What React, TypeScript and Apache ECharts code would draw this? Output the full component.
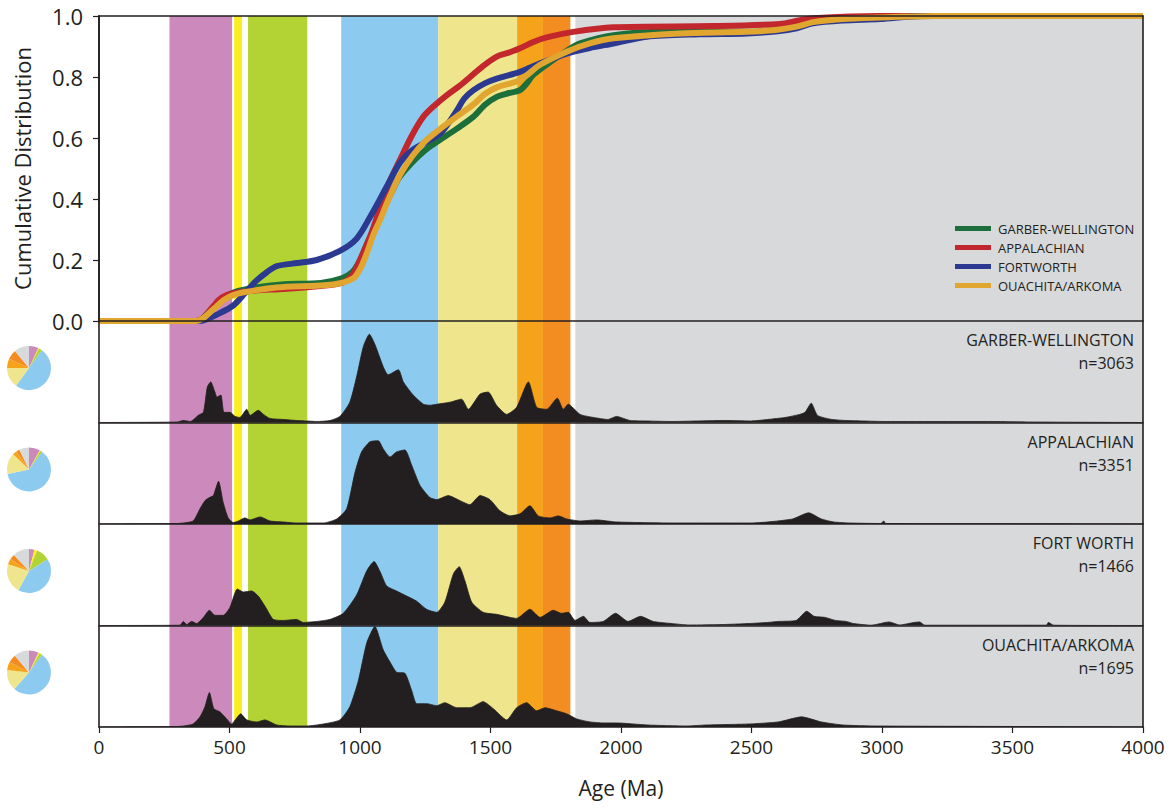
import React, { useEffect, useRef } from "react";
import * as echarts from "echarts";

// ---------- DATA ----------
const AGE_MIN = 0;
const AGE_MAX = 4000;
const AGE_STEP = 500;

const BAND_NAMES = [
  "270–510 Ma", "518–548 Ma", "571–798 Ma", "928–1300 Ma",
  "1300–1600 Ma", "1600–1700 Ma", "1700–1805 Ma", ">1825 Ma",
];
const BAND_START = [270, 518, 571, 928, 1300, 1602, 1701, 1825];
const BAND_END = [510, 548, 798, 1300, 1602, 1701, 1806, 4000];
const BAND_COLORS = ["#cb89bc", "#fbee1f", "#b3d334", "#8ccbef", "#eee58c", "#f6a31c", "#f48d21", "#d8d9db"];

const BASIN_NAMES = ["GARBER-WELLINGTON", "APPALACHIAN", "FORTWORTH", "OUACHITA/ARKOMA"];
const PANEL_LABELS = ["GARBER-WELLINGTON", "APPALACHIAN", "FORT WORTH", "OUACHITA/ARKOMA"];
const PANEL_N = [3063, 3351, 1466, 1695];
const CDF_COLORS = ["#1c6e3a", "#c1272d", "#2b3990", "#e0a630"];

// cumulative distributions [age, fraction]
const CDF_GW = [[0,0],[380,0],[420,0.03],[470,0.07],[520,0.095],[600,0.11],[700,0.12],[850,0.125],[930,0.14],[970,0.16],[1000,0.2],[1030,0.26],[1060,0.31],[1090,0.37],[1120,0.42],[1150,0.47],[1200,0.52],[1250,0.56],[1300,0.59],[1370,0.63],[1435,0.67],[1480,0.71],[1524,0.735],[1560,0.745],[1613,0.757],[1640,0.78],[1664,0.807],[1741,0.856],[1800,0.89],[1843,0.91],[1971,0.937],[2163,0.948],[2482,0.948],[2600,0.955],[2673,0.965],[2737,0.985],[2850,0.995],[2993,0.998],[3200,1],[4000,1]];
const CDF_AP = [[0,0],[370,0],[400,0.01],[430,0.04],[460,0.07],[490,0.085],[520,0.092],[600,0.1],[700,0.105],[850,0.115],[930,0.125],[970,0.15],[1000,0.2],[1040,0.28],[1077,0.37],[1110,0.45],[1154,0.53],[1200,0.61],[1243,0.67],[1290,0.71],[1332,0.74],[1380,0.77],[1422,0.8],[1470,0.835],[1524,0.867],[1570,0.88],[1613,0.894],[1664,0.915],[1715,0.93],[1817,0.948],[1971,0.963],[2354,0.967],[2609,0.974],[2680,0.985],[2737,0.993],[2993,1],[4000,1]];
const CDF_FW = [[0,0],[390,0],[410,0.005],[450,0.02],[513,0.05],[558,0.09],[600,0.13],[643,0.16],[681,0.18],[760,0.19],[834,0.2],[923,0.23],[987,0.27],[1038,0.34],[1077,0.4],[1102,0.44],[1154,0.52],[1200,0.56],[1250,0.585],[1307,0.615],[1340,0.65],[1371,0.69],[1400,0.73],[1435,0.757],[1480,0.78],[1524,0.795],[1613,0.817],[1690,0.845],[1792,0.877],[1880,0.895],[1971,0.91],[2099,0.932],[2300,0.94],[2482,0.943],[2600,0.95],[2673,0.96],[2737,0.976],[2850,0.985],[2993,0.99],[3150,1],[4000,1]];
const CDF_OA = [[0,0],[370,0],[400,0.01],[440,0.04],[480,0.07],[514,0.085],[560,0.095],[681,0.11],[897,0.12],[974,0.14],[1000,0.17],[1025,0.22],[1050,0.28],[1076,0.33],[1110,0.4],[1154,0.48],[1200,0.54],[1250,0.59],[1300,0.625],[1370,0.67],[1435,0.71],[1480,0.745],[1524,0.766],[1613,0.79],[1690,0.84],[1792,0.883],[1880,0.91],[1971,0.927],[2226,0.943],[2482,0.948],[2600,0.955],[2673,0.965],[2737,0.98],[2850,0.99],[2993,0.995],[3200,1],[4000,1]];

// relative probability density [age, relative height]
const KDE_GW = [[0,0],[300,0.005],[323,0.02],[350,0.01],[380,0.07],[400,0.1],[415,0.35],[428,0.4],[444,0.3],[452,0.25],[467,0.27],[479,0.1],[502,0.1],[521,0.06],[540,0.05],[566,0.13],[579,0.07],[610,0.12],[630,0.08],[655,0.04],[706,0.03],[757,0.02],[796,0.015],[834,0.01],[885,0.02],[923,0.06],[961,0.2],[987,0.45],[1013,0.75],[1036,0.87],[1057,0.77],[1089,0.55],[1108,0.47],[1147,0.52],[1166,0.4],[1204,0.27],[1243,0.18],[1268,0.17],[1294,0.18],[1345,0.2],[1389,0.23],[1415,0.13],[1460,0.28],[1491,0.3],[1523,0.17],[1562,0.08],[1600,0.15],[1645,0.4],[1677,0.15],[1715,0.13],[1756,0.24],[1779,0.13],[1798,0.18],[1843,0.08],[1894,0.05],[1950,0.03],[1983,0.06],[2034,0.02],[2100,0.015],[2192,0.01],[2397,0.02],[2500,0.015],[2562,0.03],[2630,0.05],[2685,0.08],[2705,0.1],[2729,0.19],[2753,0.07],[2808,0.03],[2863,0.02],[3014,0.01],[3425,0.01],[3562,0.005],[4000,0]];
const KDE_AP = [[0,0],[300,0.005],[323,0.01],[361,0.03],[387,0.15],[406,0.23],[423,0.26],[438,0.28],[458,0.42],[476,0.21],[495,0.06],[515,0.015],[534,0.03],[559,0.06],[579,0.04],[617,0.07],[655,0.03],[706,0.02],[757,0.01],[860,0.01],[911,0.05],[949,0.15],[981,0.51],[1006,0.71],[1038,0.81],[1070,0.82],[1089,0.74],[1115,0.66],[1140,0.71],[1172,0.73],[1198,0.58],[1230,0.38],[1268,0.26],[1294,0.24],[1338,0.28],[1383,0.23],[1421,0.19],[1460,0.28],[1498,0.24],[1536,0.13],[1575,0.08],[1613,0.1],[1651,0.18],[1683,0.08],[1728,0.06],[1760,0.08],[1792,0.05],[1843,0.03],[1907,0.04],[1983,0.02],[2200,0.01],[2500,0.01],[2562,0.02],[2658,0.05],[2719,0.11],[2767,0.05],[2815,0.02],[2877,0.01],[2995,0.005],[3007,0.03],[3014,0.005],[3500,0.003],[4000,0]];
const KDE_FW = [[0,0],[310,0.003],[323,0.04],[336,0.01],[355,0.04],[374,0.02],[400,0.08],[423,0.15],[444,0.1],[476,0.1],[502,0.18],[530,0.36],[553,0.33],[585,0.34],[610,0.29],[636,0.19],[668,0.06],[706,0.05],[757,0.06],[783,0.03],[834,0.04],[885,0.06],[936,0.12],[987,0.3],[1026,0.54],[1054,0.63],[1077,0.53],[1102,0.39],[1140,0.34],[1179,0.29],[1217,0.24],[1255,0.16],[1294,0.13],[1325,0.23],[1358,0.51],[1380,0.58],[1402,0.44],[1428,0.23],[1472,0.13],[1523,0.11],[1575,0.08],[1600,0.07],[1651,0.16],[1690,0.08],[1741,0.15],[1772,0.12],[1798,0.13],[1824,0.05],[1856,0.09],[1881,0.03],[1932,0.04],[1979,0.12],[2027,0.04],[2075,0.09],[2123,0.04],[2192,0.02],[2260,0.005],[2397,0.01],[2493,0.02],[2562,0.03],[2603,0.04],[2671,0.05],[2712,0.14],[2740,0.09],[2781,0.08],[2822,0.05],[2863,0.04],[2890,0.02],[2959,0.003],[3027,0.035],[3068,0.005],[3123,0.03],[3144,0.035],[3164,0.003],[3288,0.003],[3630,0.003],[3637,0.03],[3658,0.003],[4000,0]];
const KDE_OA = [[0,0],[300,0.005],[323,0.01],[361,0.03],[387,0.1],[406,0.2],[423,0.34],[440,0.18],[463,0.15],[489,0.08],[508,0.03],[525,0.08],[543,0.13],[566,0.07],[604,0.05],[636,0.07],[681,0.02],[732,0.01],[796,0.01],[860,0.03],[923,0.07],[961,0.2],[994,0.46],[1026,0.83],[1057,0.99],[1089,0.76],[1115,0.64],[1140,0.54],[1172,0.53],[1198,0.36],[1217,0.23],[1255,0.23],[1294,0.21],[1325,0.24],[1370,0.19],[1421,0.19],[1472,0.25],[1511,0.18],[1562,0.07],[1600,0.19],[1638,0.24],[1677,0.16],[1709,0.19],[1753,0.16],[1792,0.13],[1830,0.08],[1881,0.05],[1932,0.04],[1983,0.04],[2100,0.02],[2250,0.01],[2329,0.02],[2493,0.03],[2603,0.05],[2692,0.1],[2767,0.05],[2849,0.02],[2980,0.01],[3500,0.005],[4000,0]];

// pie proportions (% of grains per age band)
const PIE_GW = [7, 0.5, 2.5, 50, 15, 7, 7, 11];
const PIE_AP = [8, 0.5, 1.5, 60, 15, 3, 2.5, 7];
const PIE_FW = [4, 2, 10, 42, 22, 4, 4, 12];
const PIE_OA = [7, 1, 2, 51, 15, 6, 6, 11];

const CDFS = [CDF_GW, CDF_AP, CDF_FW, CDF_OA];
const KDES = [KDE_GW, KDE_AP, KDE_FW, KDE_OA];
const PIES = [PIE_GW, PIE_AP, PIE_FW, PIE_OA];

// ---------- LAYOUT ----------
const LEFT = 99;
const WIDTH = 1044;
const TOP = 16;
const CDF_H = 305;
const PANEL_H = 101.5;
const INK = "#231f20";
const SANS = "'Open Sans', 'Noto Sans', sans-serif";

export default function App() {
  const ref = useRef<HTMLDivElement>(null);

  useEffect(() => {
    document.body.style.margin = "0";
    const chart = echarts.init(ref.current!, null, { renderer: "svg" });

    const panelTop = (i: number) => TOP + CDF_H + i * PANEL_H;

    const grids: any[] = [
      { left: LEFT, top: TOP, width: WIDTH, height: CDF_H + 4 * PANEL_H },
      { left: LEFT, top: TOP, width: WIDTH, height: CDF_H },
    ];
    for (let i = 0; i < 4; i++) grids.push({ left: LEFT, top: panelTop(i), width: WIDTH, height: PANEL_H });

    const lineStyle = { color: INK, width: 1.6 };

    const xAxes: any[] = [
      { gridIndex: 0, type: "value", min: AGE_MIN, max: AGE_MAX, show: false },
      { gridIndex: 1, type: "value", min: AGE_MIN, max: AGE_MAX, z: 10, axisLine: { show: true, lineStyle }, axisTick: { show: false }, axisLabel: { show: false }, splitLine: { show: false } },
      { gridIndex: 1, type: "value", position: "top", min: AGE_MIN, max: AGE_MAX, z: 10, axisLine: { show: true, lineStyle }, axisTick: { show: false }, axisLabel: { show: false }, splitLine: { show: false } },
    ];
    for (let i = 0; i < 4; i++) {
      const last = i === 3;
      xAxes.push({
        gridIndex: 2 + i, type: "value", min: AGE_MIN, max: AGE_MAX, interval: AGE_STEP, z: 10,
        axisLine: { show: true, lineStyle },
        axisTick: { show: last, length: 6, lineStyle: { color: INK, width: 1.2 } },
        axisLabel: { show: last, fontSize: 19, fontFamily: SANS, color: INK, margin: 10, formatter: (v: number) => String(v) },
        splitLine: { show: false },
        name: last ? "Age (Ma)" : "",
        nameLocation: "middle",
        nameGap: 50,
        nameTextStyle: { fontSize: 21, fontFamily: SANS, color: INK },
      });
    }

    const yAxes: any[] = [
      { gridIndex: 0, type: "value", min: 0, max: 1, z: 10, axisLine: { show: true, lineStyle }, axisTick: { show: false }, axisLabel: { show: false }, splitLine: { show: false } },
      { gridIndex: 0, type: "value", position: "right", min: 0, max: 1, z: 10, axisLine: { show: true, lineStyle }, axisTick: { show: false }, axisLabel: { show: false }, splitLine: { show: false } },
      {
        gridIndex: 1, type: "value", min: 0, max: 1, interval: 0.2, z: 10,
        axisLine: { show: true, lineStyle },
        axisTick: { show: true, length: 6, lineStyle: { color: INK, width: 1.2 } },
        axisLabel: { fontSize: 22, fontFamily: SANS, color: INK, margin: 16, formatter: (v: number) => v.toFixed(1) },
        splitLine: { show: false },
        name: "Cumulative Distribution",
        nameLocation: "middle",
        nameGap: 66,
        nameTextStyle: { fontSize: 22, fontFamily: SANS, color: INK },
      },
    ];
    for (let i = 0; i < 4; i++) yAxes.push({ gridIndex: 2 + i, type: "value", min: 0, max: 1, show: false });

    const series: any[] = [
      {
        type: "line", xAxisIndex: 0, yAxisIndex: 0, data: [[0, 0]], symbol: "none",
        lineStyle: { width: 0, opacity: 0 }, silent: true, z: 1,
        markArea: {
          silent: true,
          data: BAND_START.map((s, i) => [
            { xAxis: s, itemStyle: { color: BAND_COLORS[i], opacity: 1 } },
            { xAxis: BAND_END[i] },
          ]),
        },
      },
    ];
    for (let i = 0; i < 4; i++) {
      series.push({
        type: "line", name: BASIN_NAMES[i], xAxisIndex: 1, yAxisIndex: 2, data: CDFS[i],
        symbol: "none", smooth: 0.3, z: 5,
        lineStyle: { color: CDF_COLORS[i], width: 6 }, itemStyle: { color: CDF_COLORS[i] },
      });
    }
    for (let i = 0; i < 4; i++) {
      series.push({
        type: "line", name: PANEL_LABELS[i] + " density", xAxisIndex: 3 + i, yAxisIndex: 3 + i, data: KDES[i],
        symbol: "none", smooth: 0.2, z: 4,
        lineStyle: { color: INK, width: 0.8 }, areaStyle: { color: INK, opacity: 1 },
      });
    }
    for (let i = 0; i < 4; i++) {
      series.push({
        type: "pie", name: PANEL_LABELS[i] + " pie", center: [29, panelTop(i) + 47], radius: 22,
        startAngle: 90, clockwise: true, label: { show: false }, labelLine: { show: false }, silent: true,
        data: PIES[i].map((v, j) => ({ value: v, name: BAND_NAMES[j], itemStyle: { color: BAND_COLORS[j] } })),
      });
    }

    const graphics: any[] = [];
    for (let i = 0; i < 4; i++) {
      graphics.push({
        type: "text", x: 1134, y: panelTop(i) + 19,
        style: { text: PANEL_LABELS[i], align: "right", verticalAlign: "middle", fontSize: 16, fontFamily: SANS, fill: INK },
        z: 20,
      });
      graphics.push({
        type: "text", x: 1134, y: panelTop(i) + 42,
        style: { text: "n=" + PANEL_N[i], align: "right", verticalAlign: "middle", fontSize: 16, fontFamily: SANS, fill: INK },
        z: 20,
      });
    }

    chart.setOption({
      animation: false,
      grid: grids,
      xAxis: xAxes,
      yAxis: yAxes,
      series,
      legend: {
        data: BASIN_NAMES,
        orient: "vertical",
        left: 950, top: 217,
        itemWidth: 36, itemHeight: 5, itemGap: 6,
        icon: "rect",
        textStyle: { fontSize: 13, fontFamily: SANS, color: INK, padding: [0, 0, 0, 2] },
        selectedMode: false,
        z: 20,
      },
      graphic: graphics,
    });

    return () => chart.dispose();
  }, []);

  return <div ref={ref} style={{ width: 1176, height: 808 }} />;
}
